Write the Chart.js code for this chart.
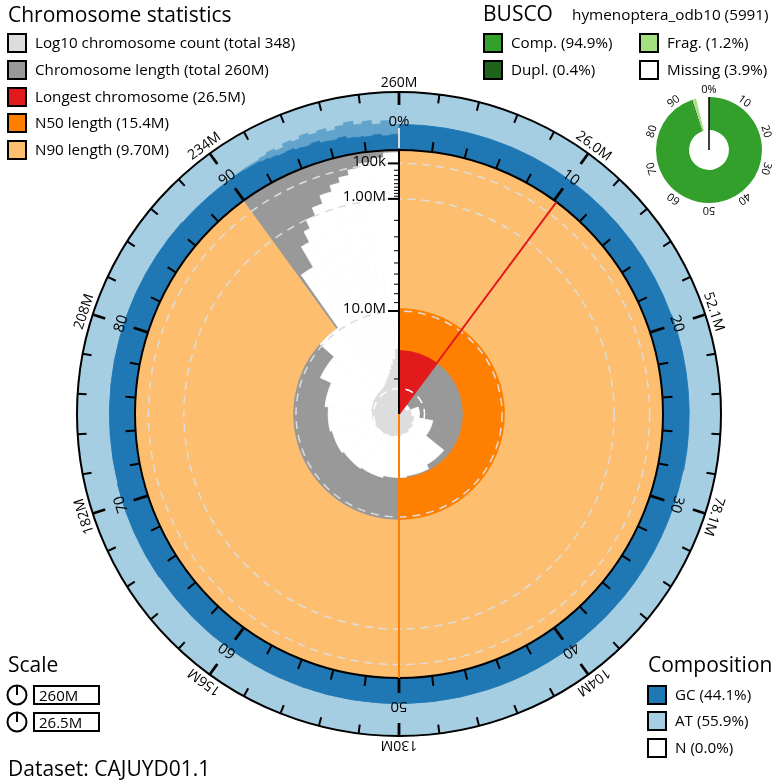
<!DOCTYPE html>
<html>
<head>
<meta charset="utf-8">
<script src="https://cdn.jsdelivr.net/npm/chart.js@4.4.1/dist/chart.umd.min.js"></script>
<style>
  body { margin: 0; background: #fff; font-family: "Open Sans", sans-serif; }
  #wrap { position: relative; width: 780px; height: 783px; overflow: hidden; }
  #snail { position: absolute; left: 0; top: 0; }
  #busco { position: absolute; left: 639px; top: 80px; }
  .t { position: absolute; white-space: nowrap; line-height: 1; color: #000; }
  .sw { position: absolute; width: 16px; height: 16px; border: 2px solid #000; }
  .box { position: absolute; width: 59px; height: 16px; border: 2px solid #000; font-size: 15px; line-height: 16px; padding-left: 4px; box-sizing: content-box; }
</style>
</head>
<body>
<div id="wrap">
  <canvas id="snail" width="780" height="783"></canvas>
  <canvas id="busco" width="140" height="140"></canvas>
</div>
<script>
// ---------- data ----------
const datasetName = 'CAJUYD01.1';
const chromTotal = 348;
const longestMb = 26.5;
const n50Mb = 15.4, n50Pct = 50;
const n90Mb = 9.7, n90Pct = 90;

// large sequences, longest first (Mb) and their GC fraction
const chromLengthsMb = [26.5, 24.2, 22.6, 20.1, 16.3, 15.6, 15.4, 15.1, 14.9, 14.6, 14.3, 13.8, 12.1, 9.7];
const chromGc = [0.44, 0.44, 0.45, 0.44, 0.44, 0.44, 0.44, 0.44, 0.44, 0.45, 0.44, 0.44, 0.44, 0.43];

// small sequences grouped by typical length (Mb) and how many
const tailLengthsMb = [3.5, 2.0, 1.4, 1.0, 0.7, 0.45, 0.3, 0.2, 0.12, 0.07, 0.04, 0.012];
const tailCounts = [1, 1, 1, 2, 3, 5, 6, 9, 15, 30, 55, 206];

// GC of the small sequences, in bins ending at these percentages: mean and max
const tailGcEndPct = [91, 92, 92.5, 93, 93.5, 94, 94.5, 95, 95.5, 96, 96.5, 97, 97.5, 98, 98.5, 99, 99.5, 100];
const tailGcMean = [0.43, 0.42, 0.40, 0.38, 0.36, 0.37, 0.34, 0.33, 0.35, 0.31, 0.30, 0.32, 0.28, 0.27, 0.26, 0.28, 0.25, 0.27];
const tailGcMax = [0.44, 0.45, 0.47, 0.50, 0.46, 0.52, 0.49, 0.54, 0.50, 0.53, 0.47, 0.52, 0.56, 0.49, 0.53, 0.46, 0.51, 0.44];

const ringTickCount = 50;
const outerTickLabels = ['260M', '26.0M', '52.1M', '78.1M', '104M', '130M', '156M', '182M', '208M', '234M'];
const pctTickLabels = ['0%', '10', '20', '30', '40', '50', '60', '70', '80', '90'];
const lenTicksMb = [0.1, 1, 10];
const lenTickLabels = ['100k', '1.00M', '10.0M'];
const lenMinorMb = [0.2, 0.3, 0.4, 0.5, 0.6, 0.7, 0.8, 0.9, 2, 3, 4, 5, 6, 7, 8, 9, 20];

const buscoLabels = ['Single', 'Dupl.', 'Frag.', 'Missing'];
const buscoValues = [94.5, 0.4, 1.2, 3.9];
const buscoColors = ['#33a02c', '#20641c', '#a3e27f', '#ffffff'];
const buscoTickLabels = ['0%', '10', '20', '30', '40', '50', '60', '70', '80', '90'];

// ---------- geometry ----------
const R_IN = 264, R_OUT = 322, LEN_R0 = 267, COUNT_K = 25.5;
const rLen = mb => Math.min(R_IN, LEN_R0 * (1 - Math.sqrt(mb / longestMb)));
const rCount = c => COUNT_K * Math.log10(c);
const rGc = f => R_IN + (R_OUT - R_IN) * f;

const C = {
  count: '#dddddd', length: '#999999', longest: '#e31a1c', n50: '#ff7f00', n90: '#fdbf6f',
  gc: '#1f78b4', gcRange: '#62a3cb', at: '#a6cee3'
};

// segments around the circle, one per sequence group
const segs = [];
chromLengthsMb.forEach(mb => segs.push({ mb, n: 1 }));
tailLengthsMb.forEach((mb, i) => segs.push({ mb, n: tailCounts[i] }));
const totalMb = segs.reduce((s, d) => s + d.mb * d.n, 0);
let cum = 0;
segs.forEach(d => { d.deg = d.mb * d.n / totalMb * 360; cum += d.n; d.count = cum; });
const segDeg = segs.map(d => d.deg);
const longestDeg = longestMb / totalMb * 360;
const longestPct = longestMb / totalMb * 100;

// GC segments: chromosomes, then the small-sequence bins
const gcSegs = chromLengthsMb.map((mb, i) => ({ deg: segDeg[i], gc: chromGc[i], max: chromGc[i] }));
let prevPct = chromLengthsMb.reduce((s, v) => s + v, 0) / totalMb * 100;
tailGcEndPct.forEach((p, i) => { gcSegs.push({ deg: (p - prevPct) * 3.6, gc: tailGcMean[i], max: tailGcMax[i] }); prevPct = p; });

function layer(label, data, angles, colors) {
  return {
    label, data, angles, backgroundColor: colors, borderColor: colors,
    borderWidth: c => c.raw > 0 ? 0.8 : 0,
    angle: c => c.dataset.angles[c.dataIndex]
  };
}

const datasets = [
  layer('count', segs.map(d => d.count > 1 ? rCount(d.count) : 0), segDeg, C.count),
  layer('hole', segs.map((d, i) => i === 0 ? 0 : rLen(d.mb)), segDeg, '#ffffff'),
  layer('inner', [rLen(n50Mb), rLen(n50Mb), 0], [longestDeg, n50Pct * 3.6 - longestDeg, 360 - n50Pct * 3.6], [C.longest, C.length, C.length]),
  layer('mid', [rLen(n90Mb), rLen(n90Mb), 0], [n50Pct * 3.6, (n90Pct - n50Pct) * 3.6, 360 - n90Pct * 3.6], [C.n50, C.length, C.length]),
  layer('outer', [R_IN, R_IN], [n90Pct * 3.6, 360 - n90Pct * 3.6], [C.n90, C.length]),
  layer('gc', gcSegs.map(d => rGc(d.gc)), gcSegs.map(d => d.deg), C.gc),
  layer('gcRange', gcSegs.map(d => rGc(d.max)), gcSegs.map(d => d.deg), C.gcRange),
  layer('at', [R_OUT], [360], C.at)
];

const gridTicks = [0, rCount(10), rLen(10), rLen(1), rLen(0.1), R_IN, R_OUT];
const gridColors = [null, '#ffffff', '#dddddd', '#dddddd', '#dddddd', '#000000', '#000000'];

// tick marks on the ring circles, every 2 %, drawn at the scale's own point angles
const ringTicks = {
  id: 'ringTicks',
  afterDraw(chart) {
    const s = chart.scales.r, ctx = chart.ctx;
    ctx.save();
    ctx.strokeStyle = '#000';
    ctx.setLineDash([]);
    for (let i = 0; i < ringTickCount; i++) {
      const major = i % 5 === 0;
      ctx.lineWidth = major ? 2.8 : 2;
      const spans = [[R_OUT - (major ? 13 : 9), R_OUT]];
      if (i > 0) spans.push([R_IN, R_IN + (major ? 15 : 10)]);
      spans.forEach(([a, b]) => {
        const p0 = s.getPointPosition(i, s.getDistanceFromCenterForValue(a));
        const p1 = s.getPointPosition(i, s.getDistanceFromCenterForValue(b));
        ctx.beginPath(); ctx.moveTo(p0.x, p0.y); ctx.lineTo(p1.x, p1.y); ctx.stroke();
      });
    }
    ctx.restore();
  }
};

const snailText = {
  id: 'snailText',
  afterDraw(chart) {
    const s = chart.scales.r, ctx = chart.ctx;
    const cx = s.xCenter, cy = s.yCenter;
    const dist = v => s.getDistanceFromCenterForValue(v);
    const ray = (pct, col, w, r0, r1) => {
      const a = pct / 100 * 2 * Math.PI - Math.PI / 2;
      ctx.beginPath(); ctx.strokeStyle = col; ctx.lineWidth = w;
      ctx.moveTo(cx + r0 * Math.cos(a), cy + r0 * Math.sin(a));
      ctx.lineTo(cx + r1 * Math.cos(a), cy + r1 * Math.sin(a));
      ctx.stroke();
    };
    ctx.save();
    ctx.setLineDash([]);
    ray(longestPct, C.longest, 2, 0, dist(R_IN));
    ray(n50Pct, C.n50, 2, 0, dist(R_IN));
    ray(0, '#dddddd', 2, dist(R_IN) + 2, dist(rGc(0.38)));
    ray(0, '#000', 2, 0, dist(R_IN));

    // length axis
    ctx.fillStyle = '#000'; ctx.strokeStyle = '#000';
    lenMinorMb.forEach(v => {
      const y = cy - dist(rLen(v));
      ctx.beginPath(); ctx.lineWidth = 1; ctx.moveTo(cx - 5, y); ctx.lineTo(cx, y); ctx.stroke();
    });
    ctx.font = '15px "Open Sans"'; ctx.textAlign = 'right'; ctx.textBaseline = 'middle';
    lenTicksMb.forEach((v, i) => {
      const y = cy - dist(rLen(v));
      ctx.beginPath(); ctx.lineWidth = 2; ctx.moveTo(cx - 11, y); ctx.lineTo(cx, y); ctx.stroke();
      ctx.fillText(lenTickLabels[i], cx - 13, y - 2);
    });

    // ring labels
    ctx.textAlign = 'center';
    const ringLabel = (txt, idx, r, font) => {
      ctx.save(); ctx.font = font; ctx.translate(cx, cy); ctx.rotate(s.getIndexAngle(idx));
      ctx.fillText(txt, 0, -r); ctx.restore();
    };
    outerTickLabels.forEach((t, i) => ringLabel(t, i * 5, 331, '14px "Open Sans"'));
    pctTickLabels.forEach((t, i) => ringLabel(t, i * 5, 292, '15px "Open Sans"'));
    ctx.restore();
  }
};

new Chart(document.getElementById('snail'), {
  type: 'polarArea',
  data: { labels: Array.from({ length: ringTickCount }, (_, i) => i * 2 + '%'), datasets },
  options: {
    responsive: false, animation: false, events: [],
    layout: { padding: { left: 77, right: 59, top: 92, bottom: 47 } },
    plugins: { legend: { display: false }, tooltip: { enabled: false } },
    scales: {
      r: {
        min: 0, max: R_OUT,
        ticks: { display: false },
        pointLabels: { display: false },
        angleLines: { display: false },
        afterBuildTicks: sc => { sc.ticks = gridTicks.map(v => ({ value: v })); },
        grid: {
          z: 1, circular: true,
          color: c => gridColors[c.index] || 'rgba(0,0,0,0)',
          lineWidth: c => c.index >= 5 ? 2 : 1.5
        },
        border: { dash: c => c.index >= 5 ? [] : [8, 6] }
      }
    }
  },
  plugins: [snailText, ringTicks]
});

const buscoText = {
  id: 'buscoText',
  afterDraw(chart) {
    const arc = chart.getDatasetMeta(0).data[0];
    const ctx = chart.ctx, cx = arc.x, cy = arc.y;
    ctx.save();
    ctx.strokeStyle = '#000'; ctx.lineWidth = 1.5;
    ctx.beginPath(); ctx.moveTo(cx, cy); ctx.lineTo(cx, cy - arc.outerRadius); ctx.stroke();
    ctx.fillStyle = '#000'; ctx.font = '11px "Open Sans"'; ctx.textAlign = 'center'; ctx.textBaseline = 'middle';
    buscoTickLabels.forEach((t, i) => {
      ctx.save(); ctx.translate(cx, cy); ctx.rotate(i / buscoTickLabels.length * 2 * Math.PI);
      ctx.fillText(t, 0, -arc.outerRadius - 7); ctx.restore();
    });
    ctx.restore();
  }
};

new Chart(document.getElementById('busco'), {
  type: 'doughnut',
  data: { labels: buscoLabels, datasets: [{ data: buscoValues, backgroundColor: buscoColors, borderWidth: 0 }] },
  options: {
    responsive: false, animation: false, events: [], cutout: '37.7%',
    layout: { padding: 17 },
    plugins: { legend: { display: false }, tooltip: { enabled: false } }
  },
  plugins: [buscoText]
});

// ---------- legends and titles ----------
const wrap = document.getElementById('wrap');
function text(str, x, base, size) {
  const d = document.createElement('div');
  d.className = 't'; d.textContent = str;
  d.style.left = x + 'px'; d.style.top = (base - 0.888 * size) + 'px'; d.style.fontSize = size + 'px';
  wrap.appendChild(d); return d;
}
function swatch(x, cy, color) {
  const d = document.createElement('div');
  d.className = 'sw'; d.style.left = x + 'px'; d.style.top = (cy - 10) + 'px'; d.style.background = color;
  wrap.appendChild(d);
}
const chromLegend = [
  ['Log10 chromosome count (total ' + chromTotal + ')', C.count],
  ['Chromosome length (total 260M)', C.length],
  ['Longest chromosome (' + longestMb + 'M)', C.longest],
  ['N50 length (' + n50Mb + 'M)', C.n50],
  ['N90 length (9.70M)', C.n90]
];
text('Chromosome statistics', 8, 23, 21);
chromLegend.forEach(([t, col], i) => { const cy = 43.3 + i * 26.7; swatch(7, cy, col); text(t, 35, cy + 5.5, 15.2); });

text('BUSCO', 483, 22, 21);
text('hymenoptera_odb10 (5991)', 572, 21, 15.3);
[['Comp. (94.9%)', '#33a02c', 483, 511, 43.3], ['Dupl. (0.4%)', '#20641c', 483, 511, 70],
 ['Frag. (1.2%)', '#a3e27f', 639, 667, 43.3], ['Missing (3.9%)', '#ffffff', 639, 667, 70]]
  .forEach(([t, col, bx, tx, cy]) => { swatch(bx, cy, col); text(t, tx, cy + 5.5, 15.2); });

text('Scale', 8, 673, 21);
['260M', longestMb + 'M'].forEach((t, i) => {
  const cy = 694.5 + i * 27;
  const ic = document.createElementNS('http://www.w3.org/2000/svg', 'svg');
  ic.setAttribute('width', 24); ic.setAttribute('height', 24);
  ic.style.position = 'absolute'; ic.style.left = '5px'; ic.style.top = (cy - 12) + 'px';
  ic.innerHTML = '<circle cx="12" cy="12" r="9.5" fill="none" stroke="#000" stroke-width="2"/><line x1="12" y1="2.5" x2="12" y2="12" stroke="#000" stroke-width="2"/>';
  wrap.appendChild(ic);
  const b = document.createElement('div');
  b.className = 'box'; b.textContent = t; b.style.left = '33px'; b.style.top = (cy - 10) + 'px';
  wrap.appendChild(b);
});
text('Dataset: ' + datasetName, 8, 777, 21);

text('Composition', 648, 673, 21);
[['GC (44.1%)', C.gc], ['AT (55.9%)', C.at], ['N (0.0%)', '#ffffff']]
  .forEach(([t, col], i) => { const cy = 694.5 + i * 26.7; swatch(647, cy, col); text(t, 675, cy + 5.5, 15.2); });
</script>
</body>
</html>
